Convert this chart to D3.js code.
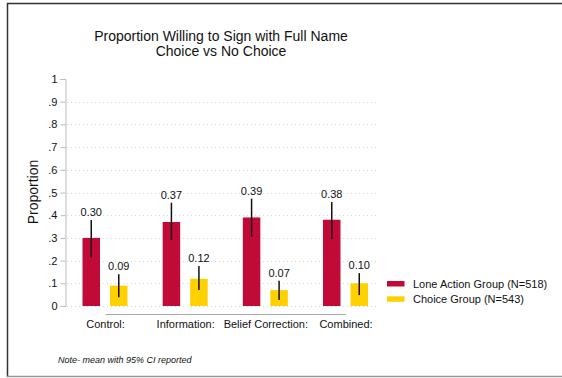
<!DOCTYPE html>
<html>
<head>
<meta charset="utf-8">
<script src="https://cdn.jsdelivr.net/npm/d3@7"></script>
<style>
  html, body { margin: 0; padding: 0; background: #fff; }
  svg { display: block; font-family: "Liberation Sans", Arial, sans-serif; }
</style>
</head>
<body>
<svg id="chart" width="562" height="378"></svg>
<script>
// Treatment arms along the x axis
const categories = ["Control:", "Information:", "Belief Correction:", "Combined:"];
const groups = ["Lone Action Group (N=518)", "Choice Group (N=543)"];

// Mean proportion and 95% CI per arm
const loneMean  = [0.30, 0.37, 0.39, 0.38];
const loneLow   = [0.214, 0.290, 0.305, 0.295];
const loneHigh  = [0.379, 0.455, 0.473, 0.458];
const choiceMean = [0.09, 0.12, 0.07, 0.10];
const choiceLow  = [0.038, 0.070, 0.026, 0.048];
const choiceHigh = [0.140, 0.176, 0.111, 0.145];

const yTicks = [0, 0.1, 0.2, 0.3, 0.4, 0.5, 0.6, 0.7, 0.8, 0.9, 1];
const yTickLabels = ["0", ".1", ".2", ".3", ".4", ".5", ".6", ".7", ".8", ".9", "1"];
const colors = ["#C20A38", "#FFD100"];

const svg = d3.select("#chart");

// Outer frame
svg.append("line").attr("x1", 7).attr("x2", 562).attr("y1", 3.5).attr("y2", 3.5)
  .attr("stroke", "#333").attr("stroke-width", 1.5);
svg.append("line").attr("x1", 7.5).attr("x2", 7.5).attr("y1", 3).attr("y2", 377)
  .attr("stroke", "#333").attr("stroke-width", 1.5);
svg.append("line").attr("x1", 7).attr("x2", 562).attr("y1", 376.5).attr("y2", 376.5)
  .attr("stroke", "#999").attr("stroke-width", 1.5);

const y = d3.scaleLinear().domain([0, 1]).range([306, 79]);
const x = d3.scalePoint().domain(categories).range([105, 345.5]);
const xs = d3.scaleBand().domain(groups).range([-22.5, 22.5]).paddingInner(0.364).paddingOuter(0);

// Dotted gridlines
svg.append("g").selectAll("line")
  .data(yTicks.filter(t => t < 1))
  .join("line")
  .attr("x1", 67).attr("x2", 377)
  .attr("y1", d => Math.round(y(d)) + 0.5).attr("y2", d => Math.round(y(d)) + 0.5)
  .attr("stroke", "#d4d4d4").attr("stroke-width", 1)
  .attr("stroke-dasharray", "1,3");

// Y axis
const yAxis = d3.axisLeft(y).tickValues(yTicks)
  .tickFormat((d, i) => yTickLabels[i]).tickSize(5).tickPadding(3);
const gy = svg.append("g").attr("transform", "translate(65.5,0)").call(yAxis);
gy.select(".domain").attr("stroke", "#bbb");
gy.selectAll(".tick line").attr("stroke", "#bbb");
gy.selectAll(".tick text").attr("font-size", 11).attr("fill", "#111")
  .attr("font-family", "Liberation Sans, Arial, sans-serif");

// X axis: line between first and last category, labels below
const xAxis = d3.axisBottom(x).tickSize(0).tickPadding(6);
const gx = svg.append("g").attr("transform", "translate(0,314)").call(xAxis);
gx.select(".domain").attr("stroke", "#aaa");
gx.selectAll(".tick text").attr("font-size", 11).attr("fill", "#111")
  .attr("font-family", "Liberation Sans, Arial, sans-serif");

// Bars, error bars, value labels
const series = [
  { name: groups[0], mean: loneMean, low: loneLow, high: loneHigh, color: colors[0] },
  { name: groups[1], mean: choiceMean, low: choiceLow, high: choiceHigh, color: colors[1] }
];
series.forEach(s => {
  const rows = categories.map((c, i) => ({ c, m: s.mean[i], lo: s.low[i], hi: s.high[i] }));
  const g = svg.append("g");
  g.selectAll("rect").data(rows).join("rect")
    .attr("x", d => x(d.c) + xs(s.name))
    .attr("width", xs.bandwidth())
    .attr("y", d => y(d.m))
    .attr("height", d => y(0) - y(d.m))
    .attr("fill", s.color);
  g.selectAll("line.ci").data(rows).join("line").attr("class", "ci")
    .attr("x1", d => x(d.c) + xs(s.name) + xs.bandwidth() / 2)
    .attr("x2", d => x(d.c) + xs(s.name) + xs.bandwidth() / 2)
    .attr("y1", d => y(d.lo)).attr("y2", d => y(d.hi))
    .attr("stroke", "#111").attr("stroke-width", 1.5);
  g.selectAll("text").data(rows).join("text")
    .attr("x", d => x(d.c) + xs(s.name) + xs.bandwidth() / 2)
    .attr("y", d => y(d.hi) - 4)
    .attr("text-anchor", "middle")
    .attr("font-size", 11).attr("fill", "#111")
    .text(d => d.m.toFixed(2));
});

// Title
const title = svg.append("text").attr("text-anchor", "middle").attr("font-size", 14).attr("fill", "#111");
title.append("tspan").attr("x", 221).attr("y", 41).text("Proportion Willing to Sign with Full Name");
title.append("tspan").attr("x", 221).attr("y", 56).text("Choice vs No Choice");

// Y axis title
svg.append("text")
  .attr("transform", "translate(38,192) rotate(-90)")
  .attr("text-anchor", "middle").attr("font-size", 14).attr("fill", "#111")
  .text("Proportion");

// Legend
const legend = svg.append("g").attr("transform", "translate(387,281)");
groups.forEach((gname, i) => {
  const row = legend.append("g").attr("transform", `translate(0,${i * 15.3})`);
  row.append("rect").attr("width", 17.5).attr("height", 5.5).attr("fill", colors[i]);
  row.append("text").attr("x", 26).attr("y", 7).attr("font-size", 11).attr("fill", "#111").text(gname);
});

// Footnote
svg.append("text").attr("x", 58).attr("y", 363)
  .attr("font-size", 9).attr("font-style", "italic").attr("fill", "#111")
  .text("Note- mean with 95% CI reported");
</script>
</body>
</html>
